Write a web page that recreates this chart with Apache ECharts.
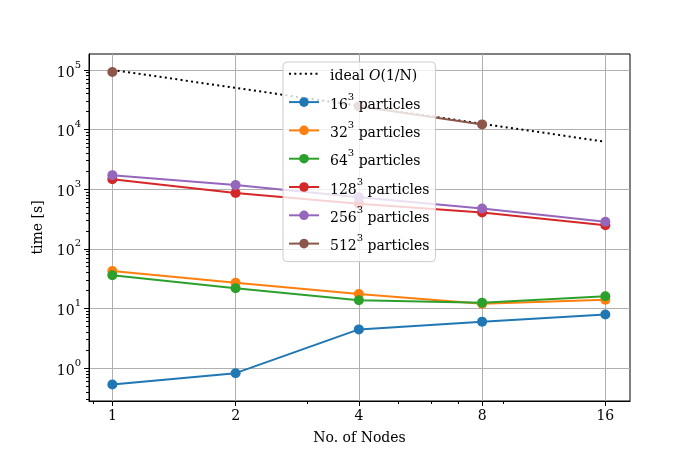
<!DOCTYPE html>
<html>
<head>
<meta charset="utf-8">
<script src="https://cdn.jsdelivr.net/npm/echarts@6/dist/echarts.min.js"></script>
<style>
  html, body { margin: 0; padding: 0; background: #fff; }
  #chart { width: 700px; height: 450px; }
</style>
</head>
<body>
<div id="chart"></div>
<script>
// number of nodes (x) and timings in seconds (y)
var nodes = [1, 2, 4, 8, 16];
var ideal = [100000, 50000, 25000, 12500, 6250];
var p16 = [0.53, 0.82, 4.45, 6.0, 7.9];
var p32 = [42.5, 27, 17.5, 12.0, 14.0];
var p64 = [36, 21.8, 13.7, 12.5, 16.0];
var p128 = [1470, 860, 568, 405, 248];
var p256 = [1720, 1170, 735, 474, 284];
var p512 = [92500, null, 24700, 12200, null];

var sizes = ['16', '32', '64', '128', '256', '512'];
var colors = ['#1f77b4', '#ff7f0e', '#2ca02c', '#d62728', '#9467bd', '#8c564b'];
var idealName = 'ideal O(1/N)';

var xTicks = [1, 2, 4, 8, 16];
var xMinorTicks = [0.9, 3, 5, 6, 7, 9];
var yTicks = [1, 10, 100, 1000, 10000, 100000];
var yMinorTicks = [];
for (var k = -1; k <= 5; k++) {
  for (var m = 2; m <= 9; m++) {
    var t = m * Math.pow(10, k);
    if (t > 0.28 && t < 185000) yMinorTicks.push(t);
  }
}

var font = 'DejaVu Serif';

function pairs(vals) {
  return nodes.map(function (n, i) { return [n, vals[i]]; });
}

var myChart = echarts.init(document.getElementById('chart'));

var series = [{
  name: idealName,
  type: 'line',
  data: pairs(ideal),
  symbol: 'none',
  lineStyle: { color: '#000', width: 2, type: [2, 3.3] },
  itemStyle: { color: '#000' },
  z: 2
}];
var allVals = [p16, p32, p64, p128, p256, p512];
sizes.forEach(function (s, i) {
  series.push({
    name: s + '^3 particles',
    type: 'line',
    data: pairs(allVals[i]),
    symbol: 'circle',
    symbolSize: 10,
    connectNulls: false,
    lineStyle: { color: colors[i], width: 2 },
    itemStyle: { color: colors[i] },
    z: 2
  });
});

var sup = { fontFamily: font, fontSize: 10, lineHeight: 10, verticalAlign: 'top', color: '#000' };
var base = { fontFamily: font, fontSize: 14, lineHeight: 20, verticalAlign: 'bottom', color: '#000' };
var first = { fontFamily: font, fontSize: 14, lineHeight: 20, verticalAlign: 'bottom', color: '#000', padding: [0, 0, 0, 6] };
var cal = { fontFamily: font, fontSize: 14, lineHeight: 20, verticalAlign: 'bottom', fontStyle: 'italic', color: '#000' };

var option = {
  animation: false,
  grid: {
    left: 89, right: 70, top: 54, bottom: 49,
    show: true, borderColor: '#000', borderWidth: 1
  },
  legend: {
    orient: 'vertical',
    left: 283,
    top: 62,
    z: 10,
    itemWidth: 30,
    itemHeight: 12,
    itemGap: 8.3,
    padding: [7, 6, 8, 5],
    backgroundColor: 'rgba(255,255,255,0.8)',
    borderColor: '#cccccc',
    borderWidth: 1,
    borderRadius: 4,
    data: [{ name: idealName, itemStyle: { opacity: 0 } }].concat(
      sizes.map(function (s) { return s + '^3 particles'; })),
    formatter: function (name) {
      if (name === idealName) return '{f|ideal }{c|O}{b|(1/N)}';
      var p = name.split('^3');
      return '{f|' + p[0] + '}{s|3}{b|' + p[1] + '}';
    },
    textStyle: {
      fontFamily: font, fontSize: 14, color: '#000',
      rich: { b: base, s: sup, c: cal, f: first }
    }
  },
  xAxis: [{
    type: 'log',
    logBase: 2,
    min: 0.877,
    max: 18.38,
    name: 'No. of Nodes',
    nameLocation: 'middle',
    nameGap: 30,
    nameTextStyle: { fontFamily: font, fontSize: 14, color: '#000' },
    axisLine: { lineStyle: { color: '#000', width: 1 } },
    axisTick: { customValues: xTicks, length: 5, lineStyle: { color: '#000' } },
    axisLabel: {
      customValues: xTicks,
      fontFamily: font, fontSize: 14, color: '#000', margin: 8,
      formatter: function (v) { return String(Math.round(v)); }
    },
    splitLine: { show: true, lineStyle: { color: '#b0b0b0', width: 1 } }
  }, {
    type: 'log',
    logBase: 2,
    min: 0.877,
    max: 18.38,
    position: 'bottom',
    axisLine: { show: false },
    axisTick: { customValues: xMinorTicks, length: 3, lineStyle: { color: '#000' } },
    axisLabel: { show: false },
    splitLine: { show: false }
  }],
  yAxis: [{
    type: 'log',
    logBase: 10,
    min: 0.28,
    max: 185000,
    name: 'time [s]',
    nameLocation: 'middle',
    nameGap: 44,
    nameTextStyle: { fontFamily: font, fontSize: 14, color: '#000' },
    axisLine: { lineStyle: { color: '#000', width: 1 } },
    axisTick: { customValues: yTicks, length: 5, lineStyle: { color: '#000' } },
    axisLabel: {
      customValues: yTicks,
      margin: 8,
      formatter: function (v) {
        return '{b|10}{s|' + Math.round(Math.log10(v)) + '}';
      },
      rich: { b: base, s: sup }
    },
    splitLine: { show: true, lineStyle: { color: '#b0b0b0', width: 1 } }
  }, {
    type: 'log',
    logBase: 10,
    min: 0.28,
    max: 185000,
    position: 'left',
    axisLine: { show: false },
    axisTick: { customValues: yMinorTicks, length: 3, lineStyle: { color: '#000' } },
    axisLabel: { show: false },
    splitLine: { show: false }
  }],
  series: series
};

myChart.setOption(option);
</script>
</body>
</html>
